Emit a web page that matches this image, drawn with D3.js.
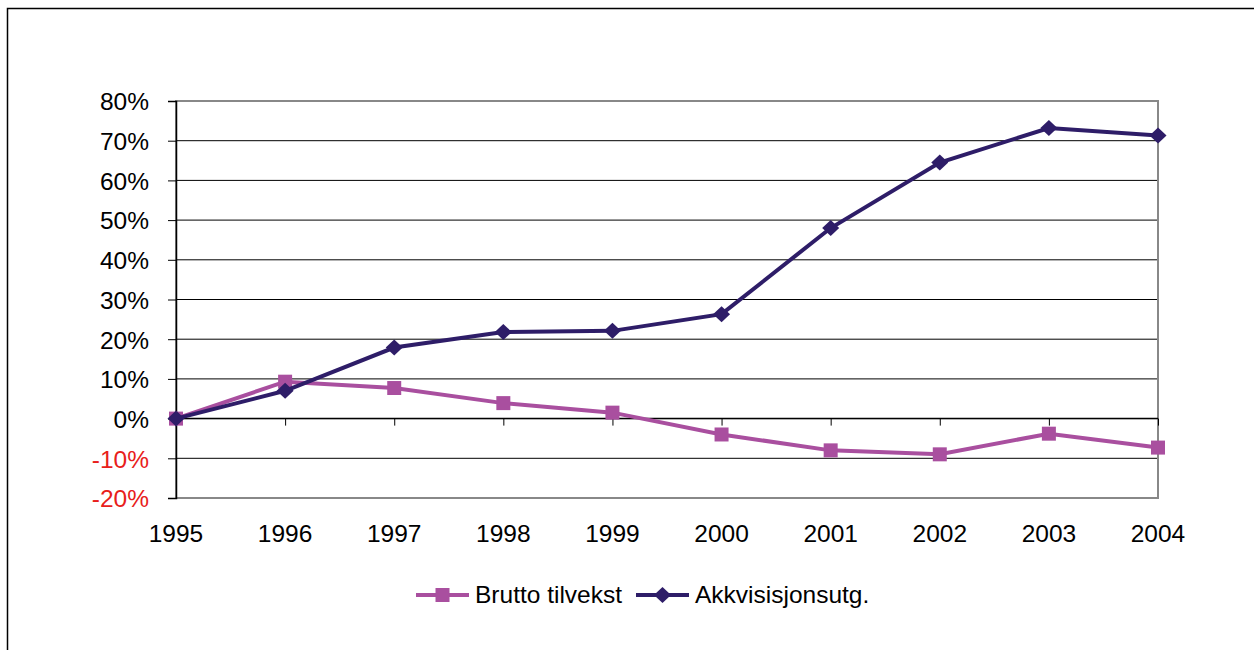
<!DOCTYPE html>
<html>
<head>
<meta charset="utf-8">
<script src="https://cdn.jsdelivr.net/npm/d3@7"></script>
<style>
  body { margin: 0; background: #fff; }
  text { font-family: "Liberation Sans", Arial, sans-serif; }
</style>
</head>
<body>
<div id="container"></div>
<script>
// data
const years = ["1995","1996","1997","1998","1999","2000","2001","2002","2003","2004"];
const brutto = [0, 9.3, 7.7, 3.9, 1.5, -4.0, -8.0, -9.0, -3.8, -7.3];
const akkvisisjon = [0, 7.0, 17.9, 21.8, 22.1, 26.3, 48.0, 64.5, 73.2, 71.3];
const yTicks = [-20, -10, 0, 10, 20, 30, 40, 50, 60, 70, 80];

const W = 1254, H = 650;
const pLeft = 176, pRight = 1158, pTop = 101, pBottom = 498;

let viz = d3.select("#container")
  .append("svg")
    .attr("width", W)
    .attr("height", H);

viz.append("rect")
  .attr("width", W).attr("height", H).attr("fill", "white");

// outer frame
viz.append("path")
  .attr("d", "M7.5," + H + " V8.5 H" + W)
  .attr("fill", "none")
  .attr("stroke", "black")
  .attr("stroke-width", 1.5);

let x = d3.scalePoint().domain(years).range([pLeft, pRight]);
let y = d3.scaleLinear().domain([-20, 80]).range([pBottom, pTop]);

// gridlines
viz.append("g")
  .selectAll("line")
  .data(yTicks.filter(d => d !== -20 && d !== 80))
  .join("line")
    .attr("x1", pLeft).attr("x2", pRight)
    .attr("y1", d => y(d)).attr("y2", d => y(d))
    .attr("stroke", "black")
    .attr("stroke-width", 1);

// plot border
viz.append("rect")
  .attr("x", pLeft).attr("y", pTop)
  .attr("width", pRight - pLeft).attr("height", pBottom - pTop)
  .attr("fill", "none")
  .attr("stroke", "#888")
  .attr("stroke-width", 2);

// y axis
let yAxis = viz.append("g")
  .attr("transform", "translate(" + pLeft + ",0)")
  .call(d3.axisLeft(y).tickValues(yTicks).tickSize(8).tickFormat(d => d + "%"));
yAxis.select(".domain").attr("stroke", "black").attr("stroke-width", 1.5);
yAxis.selectAll(".tick line").attr("stroke", "black");
yAxis.selectAll("text")
  .attr("font-size", 24.5)
  .attr("font-family", "Liberation Sans, Arial, sans-serif")
  .attr("x", -27)
  .attr("dy", "0.36em")
  .attr("fill", d => d < 0 ? "#e8201a" : "black");

// x axis line at 0
let xAxis = viz.append("g")
  .attr("transform", "translate(0," + y(0) + ")")
  .call(d3.axisBottom(x).tickSize(7).tickFormat(""));
xAxis.select(".domain").attr("d", "M" + pLeft + ",0H" + pRight).attr("stroke", "black").attr("stroke-width", 1.5);
xAxis.selectAll(".tick line").attr("stroke", "black");

// x labels at bottom
viz.append("g")
  .selectAll("text")
  .data(years)
  .join("text")
    .text(d => d)
    .attr("x", d => x(d))
    .attr("y", 542)
    .attr("text-anchor", "middle")
    .attr("font-size", 24.5);

let line = d3.line().x((d, i) => x(years[i])).y(d => y(d));

const cBrutto = "#a94f9f", cAkk = "#2e1d68";

// markers: square and a square turned 45 degrees
const sq = "M-7,-7H7V7H-7Z";
const dia = "M0,-8L8.5,0L0,8L-8.5,0Z";

const series = [
  {values: brutto, color: cBrutto, sym: sq},
  {values: akkvisisjon, color: cAkk, sym: dia}
];

series.forEach(s => {
  viz.append("path")
    .datum(s.values)
    .attr("d", line)
    .attr("fill", "none")
    .attr("stroke", s.color)
    .attr("stroke-width", 4);

  viz.append("g")
    .selectAll("path")
    .data(s.values)
    .join("path")
      .attr("d", s.sym)
      .attr("transform", (d, i) => "translate(" + x(years[i]) + "," + y(d) + ")")
      .attr("fill", s.color);
});

// legend
const legend = [
  {name: "Brutto tilvekst", color: cBrutto, sym: sq, x: 416},
  {name: "Akkvisisjonsutg.", color: cAkk, sym: dia, x: 636}
];
let lg = viz.append("g")
  .selectAll("g")
  .data(legend)
  .join("g")
    .attr("transform", d => "translate(" + d.x + ",595)");
lg.append("line")
  .attr("x1", 0).attr("x2", 53)
  .attr("stroke", d => d.color)
  .attr("stroke-width", 4);
lg.append("path")
  .attr("d", d => d.sym)
  .attr("transform", "translate(26.5,0)")
  .attr("fill", d => d.color);
lg.append("text")
  .text(d => d.name)
  .attr("x", 59)
  .attr("y", 8)
  .attr("font-size", 24.5);
</script>
</body>
</html>
